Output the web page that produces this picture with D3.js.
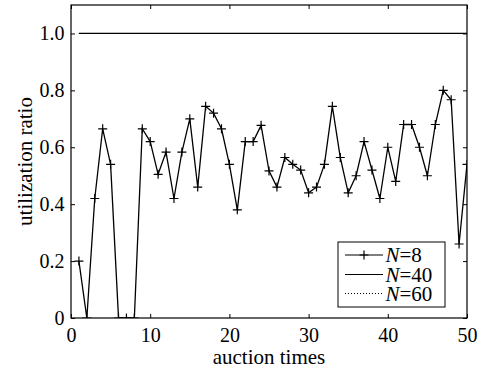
<!DOCTYPE html>
<html>
<head>
<meta charset="utf-8">
<script src="https://cdn.jsdelivr.net/npm/d3@7"></script>
<style>
  body { margin: 0; background: #fff; }
  text { font-family: "Liberation Serif", "Times New Roman", serif; fill: #000; }
</style>
</head>
<body>
<svg id="chart" width="485" height="370"></svg>
<script>
// auction index and utilization ratio
const auctions = d3.range(1, 51);
const n8 = [0.20, 0.00, 0.42, 0.665, 0.54, 0.00, 0.00, 0.00, 0.665, 0.62,
            0.505, 0.583, 0.42, 0.583, 0.70, 0.46, 0.744, 0.72, 0.665, 0.54,
            0.38, 0.62, 0.62, 0.677, 0.517, 0.46, 0.564, 0.54, 0.52, 0.44,
            0.46, 0.54, 0.744, 0.564, 0.44, 0.50, 0.62, 0.52, 0.42, 0.60,
            0.48, 0.68, 0.68, 0.60, 0.50, 0.68, 0.80, 0.767, 0.26, 0.54];
const n40 = auctions.map(() => 1.0);
const n60 = auctions.map(() => 1.0);
const xTicks = [0, 10, 20, 30, 40, 50];
const yTicks = [0, 0.2, 0.4, 0.6, 0.8, 1.0];
const legendLabels = ["8", "40", "60"];

const margin = {top: 5, right: 18, bottom: 52, left: 71};
const width = 485 - margin.left - margin.right;
const height = 370 - margin.top - margin.bottom;

const svg = d3.select("#chart");
const g = svg.append("g").attr("transform", `translate(${margin.left},${margin.top})`);

const x = d3.scaleLinear().domain([0, 50]).range([0, width]);
const y = d3.scaleLinear().domain([0, 1.1]).range([height, 0]);

g.append("clipPath").attr("id", "clip")
  .append("rect").attr("width", width).attr("height", height);

const fmtY = d => d === 0 ? "0" : d.toFixed(1);

// axes, ticks pointing inward on all four sides
g.append("g").attr("transform", `translate(0,${height})`)
  .call(d3.axisBottom(x).tickValues(xTicks).tickSize(-4).tickPadding(9.5).tickFormat(d3.format("d")))
  .call(a => a.select(".domain").remove());
g.append("g")
  .call(d3.axisTop(x).tickValues(xTicks).tickSize(-4).tickFormat(""))
  .call(a => a.select(".domain").remove());
g.append("g")
  .call(d3.axisLeft(y).tickValues(yTicks).tickSize(-4).tickPadding(6.5).tickFormat(fmtY))
  .call(a => a.select(".domain").remove());
g.append("g").attr("transform", `translate(${width},0)`)
  .call(d3.axisRight(y).tickValues(yTicks).tickSize(-4).tickFormat(""))
  .call(a => a.select(".domain").remove());

g.selectAll(".tick text")
  .style("font-family", "'Liberation Serif', serif")
  .style("font-size", "20px").attr("fill", "#000");
g.selectAll(".tick line").attr("stroke", "#000");

const line = d3.line().x((d, i) => x(auctions[i])).y(d => y(d));

const data = g.append("g").attr("clip-path", "url(#clip)");

data.append("path").datum(n60)
  .attr("d", line).attr("fill", "none").attr("stroke", "#000")
  .attr("stroke-width", 1).attr("stroke-dasharray", "1,2");
data.append("path").datum(n40)
  .attr("d", line).attr("fill", "none").attr("stroke", "#000").attr("stroke-width", 1.3);
data.append("path").datum(n8)
  .attr("d", line).attr("fill", "none").attr("stroke", "#000").attr("stroke-width", 1.3);

const m = 4.5;
data.selectAll(".mk").data(n8).join("path")
  .attr("class", "mk")
  .attr("d", `M${-m},0H${m}M0,${-m}V${m}`)
  .attr("transform", (d, i) => `translate(${x(auctions[i])},${y(d)})`)
  .attr("stroke", "#000").attr("stroke-width", 1.2).attr("fill", "none");

// frame
g.append("rect").attr("width", width).attr("height", height)
  .attr("fill", "none").attr("stroke", "#000").attr("stroke-width", 1.2);

// axis titles
svg.append("text")
  .attr("x", margin.left + width / 2).attr("y", 364)
  .attr("text-anchor", "middle").style("font-size", "21px")
  .text("auction times");
svg.append("text")
  .attr("transform", `translate(32,${margin.top + height / 2}) rotate(-90)`)
  .attr("text-anchor", "middle").style("font-size", "21px")
  .text("utilization ratio");

// legend
const lg = svg.append("g").attr("transform", "translate(338,242)");
lg.append("rect").attr("width", 107).attr("height", 65)
  .attr("fill", "#fff").attr("stroke", "#000").attr("stroke-width", 1);
const rows = [13, 32.5, 51.5];
legendLabels.forEach((lab, i) => {
  const ln = lg.append("line")
    .attr("x1", 7).attr("x2", 45).attr("y1", rows[i]).attr("y2", rows[i])
    .attr("stroke", "#000").attr("stroke-width", i === 2 ? 1 : 1.2);
  if (i === 2) ln.attr("stroke-dasharray", "1,2");
  if (i === 0) {
    lg.append("path").attr("d", `M${26 - m},${rows[i]}H${26 + m}M26,${rows[i] - m}V${rows[i] + m}`)
      .attr("stroke", "#000").attr("stroke-width", 1.2);
  }
  const t = lg.append("text").attr("x", 47.5).attr("y", rows[i] + 7).style("font-size", "21px");
  t.append("tspan").style("font-style", "italic").text("N");
  t.append("tspan").text("=" + lab);
});
</script>
</body>
</html>
